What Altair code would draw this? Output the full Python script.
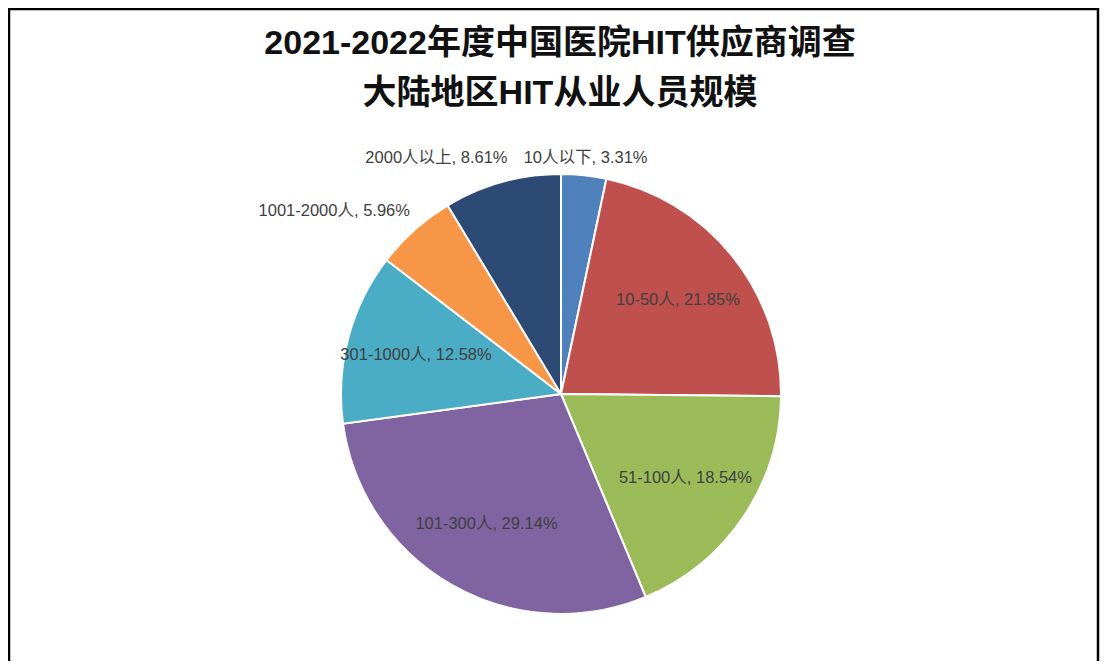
import math
import altair as alt
import pandas as pd

categories = ["10人以下", "10-50人", "51-100人", "101-300人", "301-1000人", "1001-2000人", "2000人以上"]
values = [3.31, 21.85, 18.54, 29.14, 12.58, 5.96, 8.61]
colors = ["#4F81BD", "#C0504D", "#9BBB59", "#8064A2", "#4BACC6", "#F79646", "#2C4A74"]
title_lines = ["2021-2022年度中国医院HIT供应商调查", "大陆地区HIT从业人员规模"]

df = pd.DataFrame({"cat": categories, "v": values, "idx": list(range(len(categories)))})

W, H = 1092, 653
CX, CY = 553, 386
R = 220
FONT = "Liberation Sans, 'Noto Sans CJK SC', sans-serif"

base = alt.Chart(df)

pie = base.mark_arc(radius=R, stroke="white", strokeWidth=2).encode(
    theta=alt.Theta("v:Q", stack=True),
    color=alt.Color("cat:N", scale=alt.Scale(domain=categories, range=colors), legend=None),
    order=alt.Order("idx:Q", sort="ascending"),
    x=alt.value(CX),
    y=alt.value(CY),
)

lab = base.transform_window(
    cum="sum(v)", sort=[alt.SortField("idx", order="ascending")], frame=[None, 0]
).transform_joinaggregate(
    total="sum(v)"
).transform_calculate(
    mid="(datum.cum - datum.v / 2) / datum.total",
    label="datum.cat + ', ' + format(datum.v, '.2f') + '%'",
)

theta_enc = alt.Theta("mid:Q", stack=False, scale=alt.Scale(domain=[0, 1], range=[0, 2 * math.pi]))

def text_layer(src, **kw):
    return src.mark_text(font=FONT, fontSize=16.5, color="#404040", baseline="middle", **kw).encode(
        theta=theta_enc,
        text="label:N",
        x=alt.value(CX),
        y=alt.value(CY),
    )

inside = text_layer(lab.transform_filter("datum.v >= 10"), radius=150, align="center")
out_top = text_layer(lab.transform_filter("datum.v < 10 && datum.mid < 0.5"), radius=237, align="center")
out_left = text_layer(lab.transform_filter("datum.v < 10 && datum.mid >= 0.5"), radius=245, align="right", dx=12)

one = pd.DataFrame({"a": [0]})

def rule(x, x2, y, y2):
    return alt.Chart(one).mark_rule(color="black", strokeWidth=2.5).encode(
        x=alt.value(x), x2=alt.value(x2), y=alt.value(y), y2=alt.value(y2)
    )

frame_top = rule(0, W - 1, 1, 1)
frame_left = rule(1, 1, 0, H)
frame_right = rule(W - 2, W - 2, 0, H)

title = alt.Chart(one).mark_text(
    font=FONT, fontSize=34, fontWeight="bold", color="#111111",
    align="center", baseline="top", lineHeight=50,
).encode(
    text=alt.value(title_lines),
    x=alt.value(552),
    y=alt.value(19),
)

chart = alt.layer(frame_top, frame_left, frame_right, title, pie, inside, out_top, out_left).resolve_scale(
    theta="independent"
).properties(
    width=W,
    height=H,
    autosize=alt.AutoSizeParams(type="none"),
    padding=0,
).configure_view(stroke=None)

chart.save("out.html", embed_options={"renderer": "svg", "actions": False})
